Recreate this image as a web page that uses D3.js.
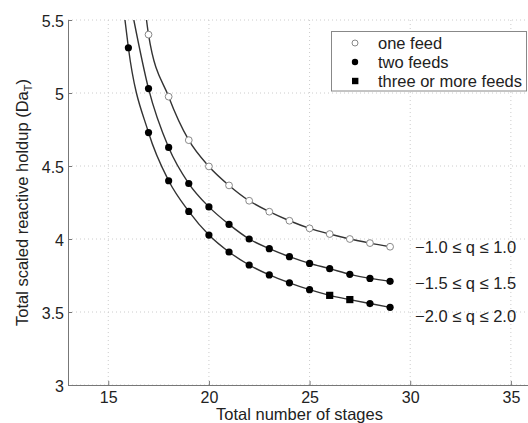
<!DOCTYPE html>
<html>
<head>
<meta charset="utf-8">
<script src="https://cdn.jsdelivr.net/npm/d3@7"></script>
<style>
  body { margin: 0; background: #fff; }
  text { font-family: "Liberation Sans", Arial, sans-serif; fill: #222; }
</style>
</head>
<body>
<div id="chart"></div>
<script>
// stages (x) for each curve
const stagesOne = [17, 18, 19, 20, 21, 22, 23, 24, 25, 26, 27, 28, 29];
const holdupOne = [5.40, 4.975, 4.677, 4.497, 4.367, 4.262, 4.187, 4.125, 4.073, 4.034, 4.0, 3.972, 3.947];

const stagesTwo = [17, 18, 19, 20, 21, 22, 23, 24, 25, 26, 27, 28, 29];
const holdupTwo = [5.03, 4.627, 4.38, 4.22, 4.10, 4.0, 3.934, 3.879, 3.833, 3.797, 3.758, 3.730, 3.71];

const stagesThree = [16, 17, 18, 19, 20, 21, 22, 23, 24, 25, 26, 27, 28, 29];
const holdupThree = [5.31, 4.729, 4.399, 4.189, 4.027, 3.911, 3.822, 3.754, 3.70, 3.653, 3.614, 3.585, 3.558, 3.532];
// number of feeds per point on the lowest curve
const feedsThree = [2, 2, 2, 2, 2, 2, 2, 2, 2, 2, 3, 3, 2, 2];

// where each fitted line leaves the top of the plot
const lineStartX = [16.9, 16.27, 15.83];

const xTicks = [15, 20, 25, 30, 35];
const yTicks = [3, 3.5, 4, 4.5, 5, 5.5];
const rangeLabels = ["\u22121.0 \u2264 q \u2264 1.0", "\u22121.5 \u2264 q \u2264 1.5", "\u22122.0 \u2264 q \u2264 2.0"];
const legendLabels = ["one feed", "two feeds", "three or more feeds"];

const width = 528, height = 423;
const margin = { left: 68, top: 20, right: 531, bottom: 385 };

const svg = d3.select("#chart").append("svg")
  .attr("width", width)
  .attr("height", height);

const x = d3.scaleLinear().domain([13, 36]).range([margin.left, margin.right]);
const y = d3.scaleLinear().domain([3, 5.5]).range([margin.bottom, margin.top]);

// grid
svg.append("g").selectAll("line").data(xTicks).enter().append("line")
  .attr("x1", d => x(d)).attr("x2", d => x(d))
  .attr("y1", margin.top).attr("y2", margin.bottom)
  .attr("stroke", "#ccc").attr("stroke-dasharray", "1,3");
svg.append("g").selectAll("line").data(yTicks).enter().append("line")
  .attr("x1", margin.left).attr("x2", margin.right)
  .attr("y1", d => y(d)).attr("y2", d => y(d))
  .attr("stroke", "#ccc").attr("stroke-dasharray", "1,3");

// axes
const xAxis = svg.append("g")
  .attr("transform", `translate(0,${margin.bottom})`)
  .call(d3.axisBottom(x).tickValues(xTicks).tickSizeInner(-4).tickSizeOuter(0).tickPadding(7));
const yAxis = svg.append("g")
  .attr("transform", `translate(${margin.left},0)`)
  .call(d3.axisLeft(y).tickValues(yTicks).tickSizeInner(-4).tickSizeOuter(0).tickPadding(4)
    .tickFormat(d3.format("")));
[xAxis, yAxis].forEach(a => {
  a.select(".domain").attr("stroke", "#777");
  a.selectAll(".tick line").attr("stroke", "#777");
  a.selectAll("text").attr("font-size", 16).attr("fill", "#222")
    .attr("font-family", "Liberation Sans, Arial, sans-serif");
});
yAxis.selectAll("text").attr("dy", "0.42em");

// clip to plot area
svg.append("clipPath").attr("id", "clip").append("rect")
  .attr("x", margin.left).attr("y", margin.top)
  .attr("width", margin.right - margin.left).attr("height", margin.bottom - margin.top);

const plot = svg.append("g").attr("clip-path", "url(#clip)");

const line = d3.line()
  .x(d => x(d[0])).y(d => y(d[1]))
  .curve(d3.curveMonotoneX);

const curves = [
  [stagesOne, holdupOne],
  [stagesTwo, holdupTwo],
  [stagesThree, holdupThree]
];

curves.forEach((c, i) => {
  const pts = [[lineStartX[i], 5.5]].concat(c[0].map((s, j) => [s, c[1][j]]));
  plot.append("path")
    .attr("d", line(pts))
    .attr("fill", "none")
    .attr("stroke", "#333")
    .attr("stroke-width", 1.4);
});

// markers
plot.selectAll(".one").data(stagesOne).enter().append("circle")
  .attr("cx", d => x(d)).attr("cy", (d, i) => y(holdupOne[i]))
  .attr("r", 3.4).attr("fill", "#fff").attr("stroke", "#888").attr("stroke-width", 1);

plot.selectAll(".two").data(stagesTwo).enter().append("circle")
  .attr("cx", d => x(d)).attr("cy", (d, i) => y(holdupTwo[i]))
  .attr("r", 3.6).attr("fill", "#000");

stagesThree.forEach((s, i) => {
  if (feedsThree[i] === 3) {
    plot.append("rect")
      .attr("x", x(s) - 3.6).attr("y", y(holdupThree[i]) - 3.6)
      .attr("width", 7.2).attr("height", 7.2).attr("fill", "#000");
  } else {
    plot.append("circle")
      .attr("cx", x(s)).attr("cy", y(holdupThree[i]))
      .attr("r", 3.6).attr("fill", "#000");
  }
});

// range labels at the end of each curve
const labelY = [247.7, 283.3, 316.7];
rangeLabels.forEach((t, i) => {
  svg.append("text")
    .attr("x", 415).attr("y", labelY[i])
    .attr("dy", "0.35em")
    .attr("font-size", 16.5)
    .text(t);
});

// legend
const lg = svg.append("g");
lg.append("rect")
  .attr("x", 331.5).attr("y", 31.5).attr("width", 195).attr("height", 59.5)
  .attr("fill", "#fff").attr("stroke", "#888");
const rowY = [43, 62, 81];
legendLabels.forEach((t, i) => {
  if (i === 0) {
    lg.append("circle").attr("cx", 355).attr("cy", rowY[i]).attr("r", 3)
      .attr("fill", "#fff").attr("stroke", "#888");
  } else if (i === 1) {
    lg.append("circle").attr("cx", 355).attr("cy", rowY[i]).attr("r", 3.2).attr("fill", "#000");
  } else {
    lg.append("rect").attr("x", 352).attr("y", rowY[i] - 3.2)
      .attr("width", 6.4).attr("height", 6.4).attr("fill", "#000");
  }
  lg.append("text").attr("x", 378).attr("y", rowY[i]).attr("dy", "0.36em")
    .attr("font-size", 16.5).text(t);
});

// axis titles
svg.append("text")
  .attr("x", 299.5).attr("y", 420)
  .attr("text-anchor", "middle")
  .attr("font-size", 16.5)
  .text("Total number of stages");

const yl = svg.append("text")
  .attr("transform", "translate(28,202.5) rotate(-90)")
  .attr("text-anchor", "middle")
  .attr("font-size", 16.5);
yl.append("tspan").text("Total scaled reactive holdup (Da");
yl.append("tspan").attr("font-size", 11).attr("dy", 4).text("T");
yl.append("tspan").attr("dy", -4).text(")");
</script>
</body>
</html>
